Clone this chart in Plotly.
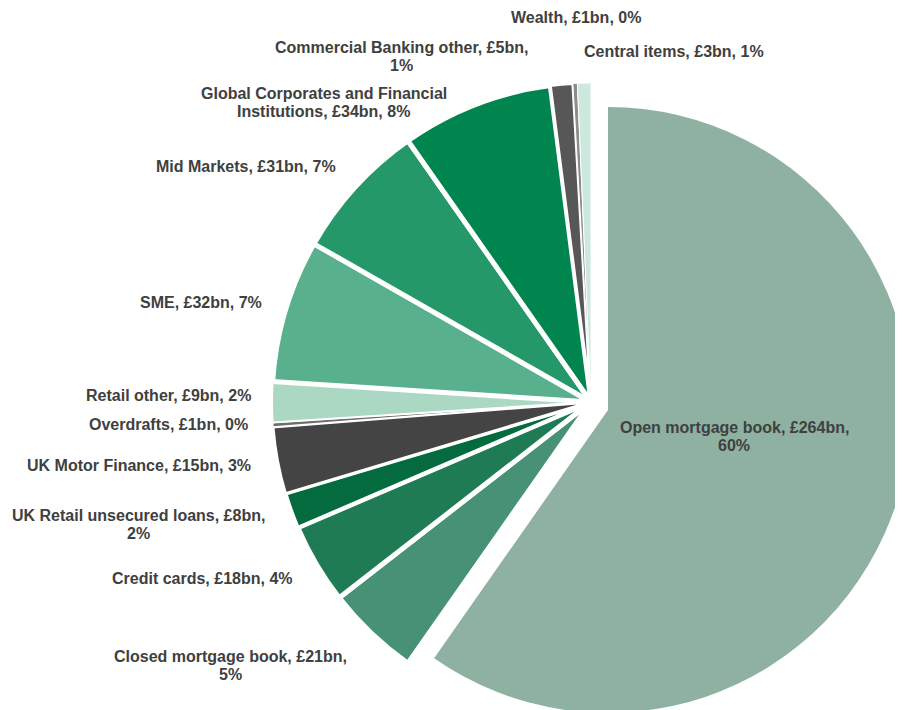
import plotly.graph_objects as go

# Loan book by segment, clockwise from 12 o'clock
segments = ["Open mortgage book", "Closed mortgage book", "Credit cards",
            "UK Retail unsecured loans", "UK Motor Finance", "Overdrafts",
            "Retail other", "SME", "Mid Markets",
            "Global Corporates and Financial Institutions",
            "Commercial Banking other", "Wealth", "Central items"]
balances_bn = [264, 21, 18, 8, 15, 1, 9, 32, 31, 34, 5, 1, 3]
shares_pct = [60, 5, 4, 2, 3, 0, 2, 7, 7, 8, 1, 0, 1]

colors = ["#8EB1A1", "#479175", "#1F7B53", "#046B3F", "#444444", "#6E6E6E",
          "#ABD8C3", "#58B08C", "#25986A", "#00854F", "#575757", "#8C8C8C",
          "#CDE8DC"]
borders = [0, 5, 5, 4, 3, 1.5, 2, 5, 5, 5, 3, 1, 1]

# the page body has an 8px margin; the figure runs a little past the window
# so the exploded slice is cropped at the edges like the original
OFF = 8
W, H = 920, 730
CLEAR = "rgba(0,0,0,0)"
LINE_GAP = 18

# label centre in window pixels
label_px = [(734, 436.5), (230.5, 665), (202, 578), (138.5, 524.5),
            (139, 465), (168, 424), (168.5, 395), (201, 302), (246, 167),
            (323.5, 102.5), (401, 56.5), (575.5, 17), (673.5, 52)]
wrap_before_pct = {"Open mortgage book", "Closed mortgage book",
                   "UK Retail unsecured loans", "Commercial Banking other"}


def label_lines(name, v, p):
    if name in wrap_before_pct:
        return [f"{name}, £{v}bn,", f"{p}%"]
    if name.endswith("Financial Institutions"):
        head, tail = name.split(" Institutions")
        return [head, f"Institutions{tail}, £{v}bn, {p}%"]
    return [f"{name}, £{v}bn, {p}%"]


def paper(px_, py_):
    return (px_ - OFF) / W, 1 - (py_ - OFF) / H


def domain(cx, cy, r):
    # square pie box of radius r around a window-pixel centre
    x0, y1 = paper(cx - r, cy - r)
    x1, y0 = paper(cx + r, cy + r)
    return dict(x=[x0, x1], y=[y0, y1])


fig = go.Figure()

# everything except the exploded slice
fig.add_trace(go.Pie(
    labels=segments, values=balances_bn, sort=False, direction="clockwise",
    rotation=0, textinfo="none", hoverinfo="skip", showlegend=False,
    marker=dict(colors=[CLEAR] + colors[1:],
                line=dict(color="white", width=borders)),
    domain=domain(591, 402, 319),
))

# exploded open mortgage book slice
fig.add_trace(go.Pie(
    labels=segments, values=balances_bn, sort=False, direction="clockwise",
    rotation=0, textinfo="none", hoverinfo="skip", showlegend=False,
    marker=dict(colors=[colors[0]] + [CLEAR] * (len(colors) - 1),
                line=dict(color="white", width=0)),
    domain=domain(608, 410, 303),
))

for name, v, p, (px_, py_) in zip(segments, balances_bn, shares_pct, label_px):
    lines = label_lines(name, v, p)
    for i, line in enumerate(lines):
        x, y = paper(px_, py_ + (i - (len(lines) - 1) / 2) * LINE_GAP)
        fig.add_annotation(
            x=x, y=y, xref="paper", yref="paper",
            text=f"<b>{line}</b>", showarrow=False,
            xanchor="center", yanchor="middle", align="center",
            font=dict(family="Liberation Sans, Arial, sans-serif", size=16,
                      color="#404040"),
        )

fig.update_layout(
    width=W, height=H,
    margin=dict(l=0, r=0, t=0, b=0),
    paper_bgcolor="white", plot_bgcolor="white",
)

fig.write_html("out.html")
